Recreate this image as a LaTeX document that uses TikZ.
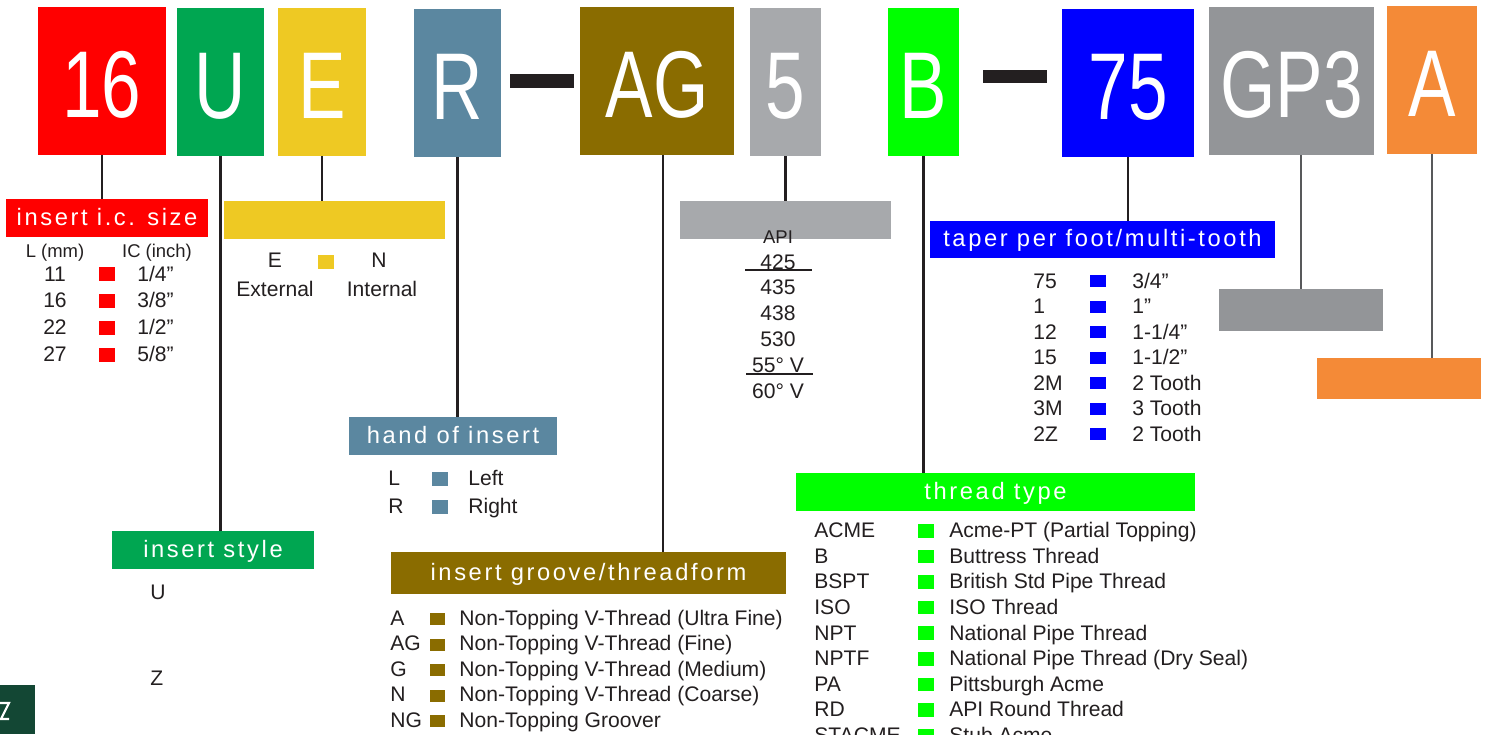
\documentclass[tikz,border=0pt]{standalone}
\usepackage{fontspec}
\setmainfont{Liberation Sans}
\newfontfamily\codefont[FakeStretch=0.75]{Liberation Sans}
\newfontfamily\headfont[LetterSpace=11]{Liberation Sans}

\definecolor{ink}{HTML}{231F20}
\definecolor{leadgray}{HTML}{58595B}
\definecolor{sizered}{HTML}{FF0000}
\definecolor{stylegreen}{HTML}{00A651}
\definecolor{extyellow}{HTML}{EEC923}
\definecolor{handblue}{HTML}{5B87A0}
\definecolor{grooveolive}{HTML}{8A6C00}
\definecolor{apigray}{HTML}{A7A9AC}
\definecolor{threadgreen}{HTML}{00FF00}
\definecolor{taperblue}{HTML}{0000FF}
\definecolor{gradegray}{HTML}{939598}
\definecolor{optorange}{HTML}{F48A37}
\definecolor{logogreen}{HTML}{134734}

\tikzset{
  codebox/.style={fill=#1, text=white, inner sep=0pt, text height=41pt, text depth=0pt,
    font=\codefont\fontsize{54}{54}\selectfont},
  headbox/.style={fill=#1, text=white, inner sep=0pt, text height=10pt, text depth=2pt,
    font=\headfont\fontsize{13.5}{14}\selectfont},
  legend/.style={inner sep=0pt, text=ink, font=\fontsize{12}{14}\selectfont},
  smalllegend/.style={inner sep=0pt, text=ink, font=\fontsize{10.5}{12}\selectfont},
  lead/.style={draw=ink, line width=1.3pt},
}

\begin{document}
\begin{tikzpicture}[x=0.02cm, y=-0.02cm]
  \useasboundingbox (0,0) rectangle (1488,734);
  \clip (0,0) rectangle (1488,734);

  % part number
  \node[codebox=sizered, minimum width=2.56cm, minimum height=2.96cm] (c16) at (102,81) {16};
  \node[codebox=stylegreen, minimum width=1.74cm, minimum height=2.96cm] (cU) at (220.5,82) {U};
  \node[codebox=extyellow, minimum width=1.76cm, minimum height=2.96cm] (cE) at (322,82) {E};
  \node[codebox=handblue, minimum width=1.74cm, minimum height=2.96cm] (cR) at (457.5,83) {R};
  \fill[ink] (510,74) rectangle (574,88);
  \node[codebox=grooveolive, minimum width=3.08cm, minimum height=2.96cm] (cAG) at (657,81) {AG};
  \node[codebox=apigray, minimum width=1.42cm, minimum height=2.96cm] (c5) at (785.5,82) {5};
  \node[codebox=threadgreen, minimum width=1.42cm, minimum height=2.96cm] (cB) at (923.5,82) {B};
  \fill[ink] (983,70) rectangle (1047,83);
  \node[codebox=taperblue, minimum width=2.64cm, minimum height=2.96cm] (c75) at (1128,83) {75};
  \node[codebox=gradegray, minimum width=3.30cm, minimum height=2.96cm] (cGP3) at (1291.5,81) {GP3};
  \node[codebox=optorange, minimum width=1.80cm, minimum height=2.96cm] (cA) at (1432,80) {A};

  % headers
  \node[headbox=sizered, minimum width=4.04cm, minimum height=0.76cm] (l16) at (107,218) {insert i.c. size};
  \node[headbox=extyellow, minimum width=4.42cm, minimum height=0.76cm] (lE) at (334.5,220) {};
  \node[headbox=apigray, minimum width=4.22cm, minimum height=0.76cm] (l5) at (785.5,220) {};
  \node[headbox=taperblue, minimum width=6.90cm, minimum height=0.74cm] (l75) at (1102.5,239.5) {taper per foot/multi-tooth};
  \node[headbox=gradegray, minimum width=3.28cm, minimum height=0.84cm] (lGP3) at (1301,310) {};
  \node[headbox=optorange, minimum width=3.28cm, minimum height=0.82cm] (lA) at (1399,378.5) {};
  \node[headbox=handblue, minimum width=4.16cm, minimum height=0.76cm] (lR) at (453,436) {hand of insert};
  \node[headbox=threadgreen, minimum width=7.98cm, minimum height=0.76cm] (lB) at (995.5,492) {thread type};
  \node[headbox=stylegreen, minimum width=4.04cm, minimum height=0.76cm] (lU) at (213,550) {insert style};
  \node[headbox=grooveolive, minimum width=7.90cm, minimum height=0.84cm] (lAG) at (588.5,573) {insert groove/threadform};

  % leads
  \draw[lead] (c16.south) -- (c16.south |- l16.north);
  \draw[lead] (cU.south) -- (cU.south |- lU.north);
  \draw[lead] (cE.south) -- (cE.south |- lE.north);
  \draw[lead] (cR.south) -- (cR.south |- lR.north);
  \draw[lead] ([xshift=0.12cm]cAG.south) -- ([xshift=0.12cm]cAG.south |- lAG.north);
  \draw[lead] (c5.south) -- (c5.south |- l5.north);
  \draw[lead] (cB.south) -- (cB.south |- lB.north);
  \draw[lead] (c75.south) -- (c75.south |- l75.north);
  \draw[lead, draw=leadgray, line width=0.9pt] (lGP3.north) -- (lGP3.north |- cGP3.south);
  \draw[lead, draw=leadgray, line width=0.9pt] (cA.south) -- (cA.south |- lA.north);

  % API list
  \node[smalllegend, anchor=base] (api) at (778,243) {API};
  \foreach \val [count=\i] in {425, 435, 438, 530, 55° V, 60° V}
    \node[legend, anchor=base] (api\i) at (778,{269+25.8*(\i-1)}) {\val};
  \draw[ink, line width=1.1pt] (api1.base) ++(-33,1) -- ++(67,0);
  \draw[ink, line width=1.1pt] (api5.base) ++(-32,2) -- ++(67,0);

  % insert i.c. size
  \node[smalllegend, anchor=base] (icL) at (55,257) {L (mm)};
  \node[smalllegend, anchor=base] (icI) at (157,257) {IC (inch)};
  \foreach \code/\val [count=\i] in {11/{1/4”}, 16/{3/8”}, 22/{1/2”}, 27/{5/8”}} {
    \node[legend, anchor=base] (ic\i) at (55,{281+26.9*(\i-1)}) {\code};
    \fill[sizered] (99,{267+26.9*(\i-1)}) rectangle +(16,14);
    \node[legend, anchor=base west] (icv\i) at (137,{281+26.9*(\i-1)}) {\val};
  }

  % external / internal
  \node[legend, anchor=base] (extE) at (275,267) {E};
  \fill[extyellow] (318,255) rectangle +(16,14);
  \node[legend, anchor=base] (extN) at (379,267) {N};
  \node[legend, anchor=base] (extX) at (275,296) {External};
  \node[legend, anchor=base] (extI) at (382,296) {Internal};

  % taper per foot
  \foreach \code/\val [count=\i] in {75/{3/4”}, 1/1”, 12/{1-1/4”}, 15/{1-1/2”}, 2M/2 Tooth, 3M/3 Tooth, 2Z/2 Tooth} {
    \node[legend, anchor=base west] (tp\i) at (1033,{288+25.5*(\i-1)}) {\code};
    \fill[taperblue] (1090,{275+25.5*(\i-1)}) rectangle +(16,12);
    \node[legend, anchor=base west] (tpv\i) at (1132,{288+25.5*(\i-1)}) {\val};
  }

  % hand of insert
  \foreach \code/\val [count=\i] in {L/Left, R/Right} {
    \node[legend, anchor=base west] (hd\i) at (388,{485+28*(\i-1)}) {\code};
    \fill[handblue] (432,{472+28*(\i-1)}) rectangle +(16,14);
    \node[legend, anchor=base west] (hdv\i) at (468,{485+28*(\i-1)}) {\val};
  }

  % insert style
  \node[legend, anchor=base west] (stU) at (150,599) {U};
  \node[legend, anchor=base west] (stZ) at (150,685) {Z};

  % groove / threadform
  \foreach \code/\val [count=\i] in {A/Non-Topping V-Thread (Ultra Fine), AG/Non-Topping V-Thread (Fine),
      G/Non-Topping V-Thread (Medium), N/Non-Topping V-Thread (Coarse), NG/Non-Topping Groover} {
    \node[legend, anchor=base west] (gr\i) at (390,{625+25.5*(\i-1)}) {\code};
    \fill[grooveolive] (430,{613+25.5*(\i-1)}) rectangle +(15,12);
    \node[legend, anchor=base west] (grv\i) at (459,{625+25.5*(\i-1)}) {\val};
  }

  % thread type
  \foreach \code/\val [count=\i] in {ACME/Acme-PT (Partial Topping), B/Buttress Thread,
      BSPT/British Std Pipe Thread, ISO/ISO Thread, NPT/National Pipe Thread,
      NPTF/National Pipe Thread (Dry Seal), PA/Pittsburgh Acme, RD/API Round Thread, STACME/Stub Acme} {
    \node[legend, anchor=base west] (th\i) at (814,{537.7+25.6*(\i-1)}) {\code};
    \fill[threadgreen] (918,{524+25.6*(\i-1)}) rectangle +(16,13.5);
    \node[legend, anchor=base west] (thv\i) at (949,{537.7+25.6*(\i-1)}) {\val};
  }

  % logo corner
  \fill[logogreen] (0,685) rectangle (35,734);
  \draw[white, line width=1.2pt] (0,703) -- (9,703) -- (1,719) -- (9,719);
\end{tikzpicture}
\end{document}
